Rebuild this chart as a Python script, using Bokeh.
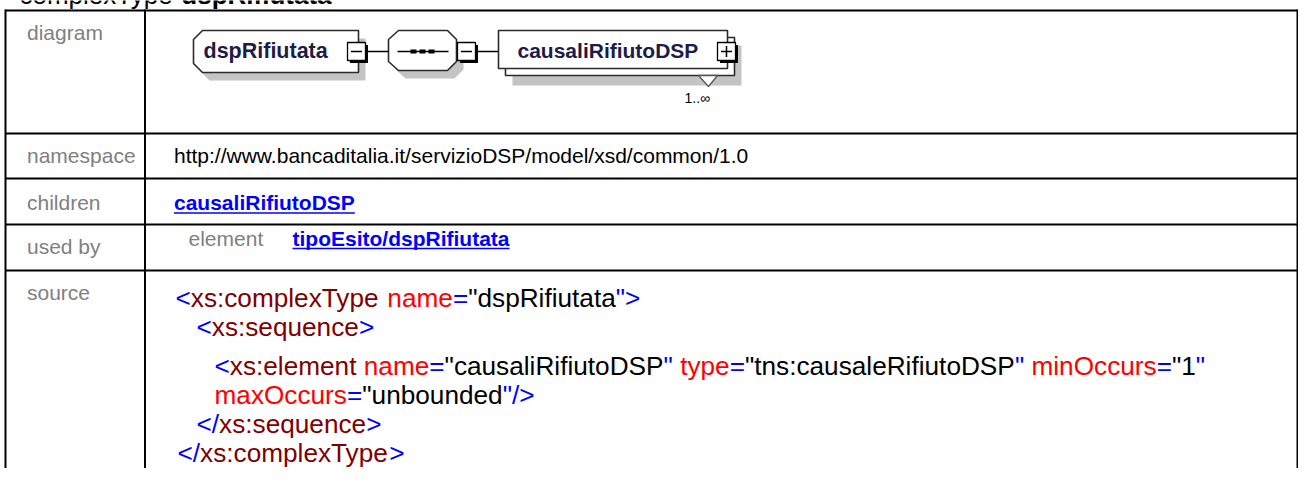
from bokeh.plotting import figure
from bokeh.models import Range1d, ColumnDataSource
from bokeh.core.properties import value
from bokeh.embed import file_html
from bokeh.resources import INLINE

FONT = "Liberation Sans"
BLUE = "#0000FF"
DARKRED = "#800000"
RED = "#FF0000"
BLACK = "#000000"
GRAY = "#808080"
NAVY = "#1c1c48"
SHADOW = "#c4c4c4"
EDGE = "#2b2b2b"

# ---------------- content ----------------
TITLE_PARTS = [("complexType ", "normal"), ("dspRifiutata", "bold")]
ROW_LABELS = ["diagram", "namespace", "children", "used by", "source"]
LABEL_BASELINES = [39, 162.5, 209.5, 253, 299.5]
ROW_LINES_Y = [10, 133, 178, 224, 270]
COL_LINES_X = [5, 144.5, 1297]

NAMESPACE = "http://www.bancaditalia.it/servizioDSP/model/xsd/common/1.0"
CHILDREN = ["causaliRifiutoDSP"]
USED_BY_KIND = ["element"]
USED_BY = ["tipoEsito/dspRifiutata"]

ELEMENT_NAME = "dspRifiutata"
CHILD_NAME = "causaliRifiutoDSP"
OCCURS = "1..\u221e"

SOURCE_STARTS = [175, 196, 214, 214, 196, 177]
SOURCE_BASELINES = [307, 336, 375, 404, 433, 462]
SOURCE_LINES = [
    [("<", BLUE), ("xs:complexType", DARKRED), (" ", BLACK), ("name", RED), ("=", BLUE),
     ('"dspRifiutata', BLACK), ('"', BLUE), (">", BLUE)],
    [("<", BLUE), ("xs:sequence", DARKRED), (">", BLUE)],
    [("<", BLUE), ("xs:element", DARKRED), (" ", BLACK), ("name", RED), ("=", BLUE),
     ('"causaliRifiutoDSP', BLACK), ('"', BLUE), (" ", BLACK), ("type", RED), ("=", BLUE),
     ('"tns:causaleRifiutoDSP', BLACK), ('"', BLUE), (" ", BLACK), ("minOccurs", RED),
     ("=", BLUE), ('"1', BLACK), ('"', BLUE)],
    [("maxOccurs", RED), ("=", BLUE), ('"unbounded', BLACK), ('"', BLUE), ("/>", BLUE)],
    [("</", BLUE), ("xs:sequence", DARKRED), (">", BLUE)],
    [("</", BLUE), ("xs:complexType", DARKRED), (">", BLUE)],
]

# ---------------- Arial/Helvetica metrics ----------------
REG = {' ': 278, '"': 355, '.': 278, '/': 278, ':': 278, '<': 584, '=': 584, '>': 584,
       'A': 667, 'B': 667, 'C': 722, 'D': 722, 'E': 667, 'F': 611, 'G': 778, 'H': 722, 'I': 278,
       'J': 500, 'K': 667, 'L': 556, 'M': 833, 'N': 722, 'O': 778, 'P': 667, 'Q': 778, 'R': 722,
       'S': 667, 'T': 611, 'U': 722, 'V': 667, 'W': 944, 'X': 667, 'Y': 667, 'Z': 611,
       'a': 556, 'b': 556, 'c': 500, 'd': 556, 'e': 556, 'f': 278, 'g': 556, 'h': 556, 'i': 222,
       'j': 222, 'k': 500, 'l': 222, 'm': 833, 'n': 556, 'o': 556, 'p': 556, 'q': 556, 'r': 333,
       's': 500, 't': 278, 'u': 556, 'v': 500, 'w': 722, 'x': 500, 'y': 500, 'z': 500}
BOLD = {' ': 278, '"': 474, '.': 278, '/': 278, ':': 333, '<': 584, '=': 584, '>': 584,
        'A': 722, 'B': 722, 'C': 722, 'D': 722, 'E': 667, 'F': 611, 'G': 778, 'H': 722, 'I': 278,
        'J': 556, 'K': 722, 'L': 611, 'M': 833, 'N': 722, 'O': 778, 'P': 667, 'Q': 778, 'R': 722,
        'S': 667, 'T': 611, 'U': 722, 'V': 667, 'W': 944, 'X': 667, 'Y': 667, 'Z': 611,
        'a': 556, 'b': 611, 'c': 556, 'd': 611, 'e': 556, 'f': 333, 'g': 611, 'h': 611, 'i': 278,
        'j': 278, 'k': 556, 'l': 278, 'm': 889, 'n': 611, 'o': 611, 'p': 611, 'q': 611, 'r': 389,
        's': 556, 't': 333, 'u': 611, 'v': 556, 'w': 778, 'x': 556, 'y': 556, 'z': 500}
for d in "0123456789":
    REG[d] = 556
    BOLD[d] = 556


def tw(s, size, bold=False):
    tab = BOLD if bold else REG
    return sum(tab.get(c, 556) for c in s) * size / 1000.0


def by(baseline, size):
    # the renderer places the glyph's alphabetic baseline about 0.35em below y
    return baseline - 0.35 * size


# ---------------- figure ----------------
W, H = 1298, 468
p = figure(width=W, height=H, x_range=Range1d(0, W), y_range=Range1d(H, 0),
           output_backend="svg", toolbar_location=None, min_border=0,
           x_axis_location=None, y_axis_location=None)
p.grid.visible = False
p.outline_line_color = None
p.background_fill_color = "white"
p.border_fill_color = "white"


def txt(x, baseline, s, size, color, bold=False):
    p.text(x=[x], y=[by(baseline, size)], text=[s], text_font=value(FONT),
           text_font_size=value(f"{size}px"), text_color=color,
           text_font_style="bold" if bold else "normal",
           text_baseline="alphabetic", text_align="left")


# title (cut off at the top, as in the reference)
TS = 26
tx = 19
for s, st in TITLE_PARTS:
    txt(tx, 4, s, TS, BLACK, bold=(st == "bold"))
    tx += tw(s, TS, st == "bold")

# table grid
n = len(ROW_LINES_Y)
p.segment(x0=[COL_LINES_X[0]] * n, x1=[COL_LINES_X[-1]] * n,
          y0=ROW_LINES_Y, y1=ROW_LINES_Y, line_color=BLACK, line_width=2)
p.segment(x0=COL_LINES_X, x1=COL_LINES_X, y0=[ROW_LINES_Y[0] - 1] * 3, y1=[480] * 3,
          line_color=BLACK, line_width=2)

# row labels
LS = 21
p.text(x=[26.5] * len(ROW_LABELS), y=[by(b, LS) for b in LABEL_BASELINES], text=ROW_LABELS,
       text_font=value(FONT), text_font_size=value(f"{LS}px"), text_color=GRAY,
       text_baseline="alphabetic", text_align="left")

# namespace
txt(173.5, 162.5, NAMESPACE, 21, BLACK)
# children link
txt(173.5, 209.5, CHILDREN[0], 21, BLUE, bold=True)
p.segment(x0=[173.5], x1=[173.5 + tw(CHILDREN[0], 21, True)], y0=[212.5], y1=[212.5],
          line_color=BLUE, line_width=1.6)
# used by
txt(188, 245, USED_BY_KIND[0], 21, GRAY)
txt(292, 245, USED_BY[0], 21, BLUE, bold=True)
p.segment(x0=[292], x1=[292 + tw(USED_BY[0], 21, True)], y0=[248], y1=[248],
          line_color=BLUE, line_width=1.6)

# source code
SS = 26.2
sx, sy, st, sc = [], [], [], []
for x0, yb, parts in zip(SOURCE_STARTS, SOURCE_BASELINES, SOURCE_LINES):
    x = x0
    for s, c in parts:
        if s.strip():
            sx.append(x); sy.append(by(yb, SS)); st.append(s); sc.append(c)
        x += tw(s, SS)
src = ColumnDataSource(dict(x=sx, y=sy, text=st, color=sc))
p.text(x="x", y="y", text="text", text_color="color", source=src,
       text_font=value(FONT), text_font_size=value(f"{SS}px"),
       text_baseline="alphabetic", text_align="left")

# ---------------- diagram ----------------
ex = [202, 358, 358, 202, 193, 193]
ey = [30, 30, 72, 72, 63, 39]
p.patch([v + 7 for v in ex], [v + 8 for v in ey], fill_color=SHADOW, line_color=None)
p.patch(ex, ey, fill_color="white", line_color=EDGE, line_width=1.6)
txt(203, 58, ELEMENT_NAME, 21.5, NAVY, bold=True)

# sequence compositor (octagon)
ox = [398, 447, 456, 456, 447, 398, 388, 388]
oy = [30, 30, 39, 61, 70, 70, 61, 39]
p.patch([v + 7 for v in ox], [v + 8 for v in oy], fill_color=SHADOW, line_color=None)
p.patch(ox, oy, fill_color="white", line_color=EDGE, line_width=1.6)
p.segment(x0=[397], x1=[448], y0=[51], y1=[51], line_color=BLACK, line_width=1.6)
p.rect(x=[413, 422, 431], y=[51] * 3, width=6, height=4, fill_color=BLACK, line_color=None)

# connectors
p.segment(x0=[367.5, 477.5], x1=[388, 498], y0=[51, 51], y1=[51, 51],
          line_color=BLACK, line_width=1.6)

# child element (repeating: stacked boxes)
p.quad(left=[512], right=[741], top=[45], bottom=[85], fill_color=SHADOW, line_color=None)
p.quad(left=[505], right=[734], top=[37], bottom=[75], fill_color="white",
       line_color=EDGE, line_width=1.6)
p.patch([698, 717, 708], [75, 75, 86], fill_color="white", line_color="#555555", line_width=1.3)
p.quad(left=[498], right=[727], top=[30], bottom=[68], fill_color="white",
       line_color=EDGE, line_width=1.6)
txt(517, 57, CHILD_NAME, 21, NAVY, bold=True)
txt(684, 102, OCCURS, 14, BLACK)


def small_box(x, y, plus=False):
    p.quad(left=[x + 2.5], right=[x + 20.5], top=[y + 2.5], bottom=[y + 20.5],
           fill_color=BLACK, line_color=None)
    p.quad(left=[x], right=[x + 18], top=[y], bottom=[y + 18],
           fill_color="white", line_color=BLACK, line_width=1.3)
    cx, cy = x + 9, y + 9
    p.segment(x0=[cx - 5.5], x1=[cx + 5.5], y0=[cy], y1=[cy], line_color=BLACK, line_width=1.5)
    if plus:
        p.segment(x0=[cx], x1=[cx], y0=[cy - 5.5], y1=[cy + 5.5], line_color=BLACK, line_width=1.5)


small_box(347, 42)
small_box(457, 42)
small_box(717, 42, plus=True)

open("out.html", "w").write(file_html(p, INLINE))
